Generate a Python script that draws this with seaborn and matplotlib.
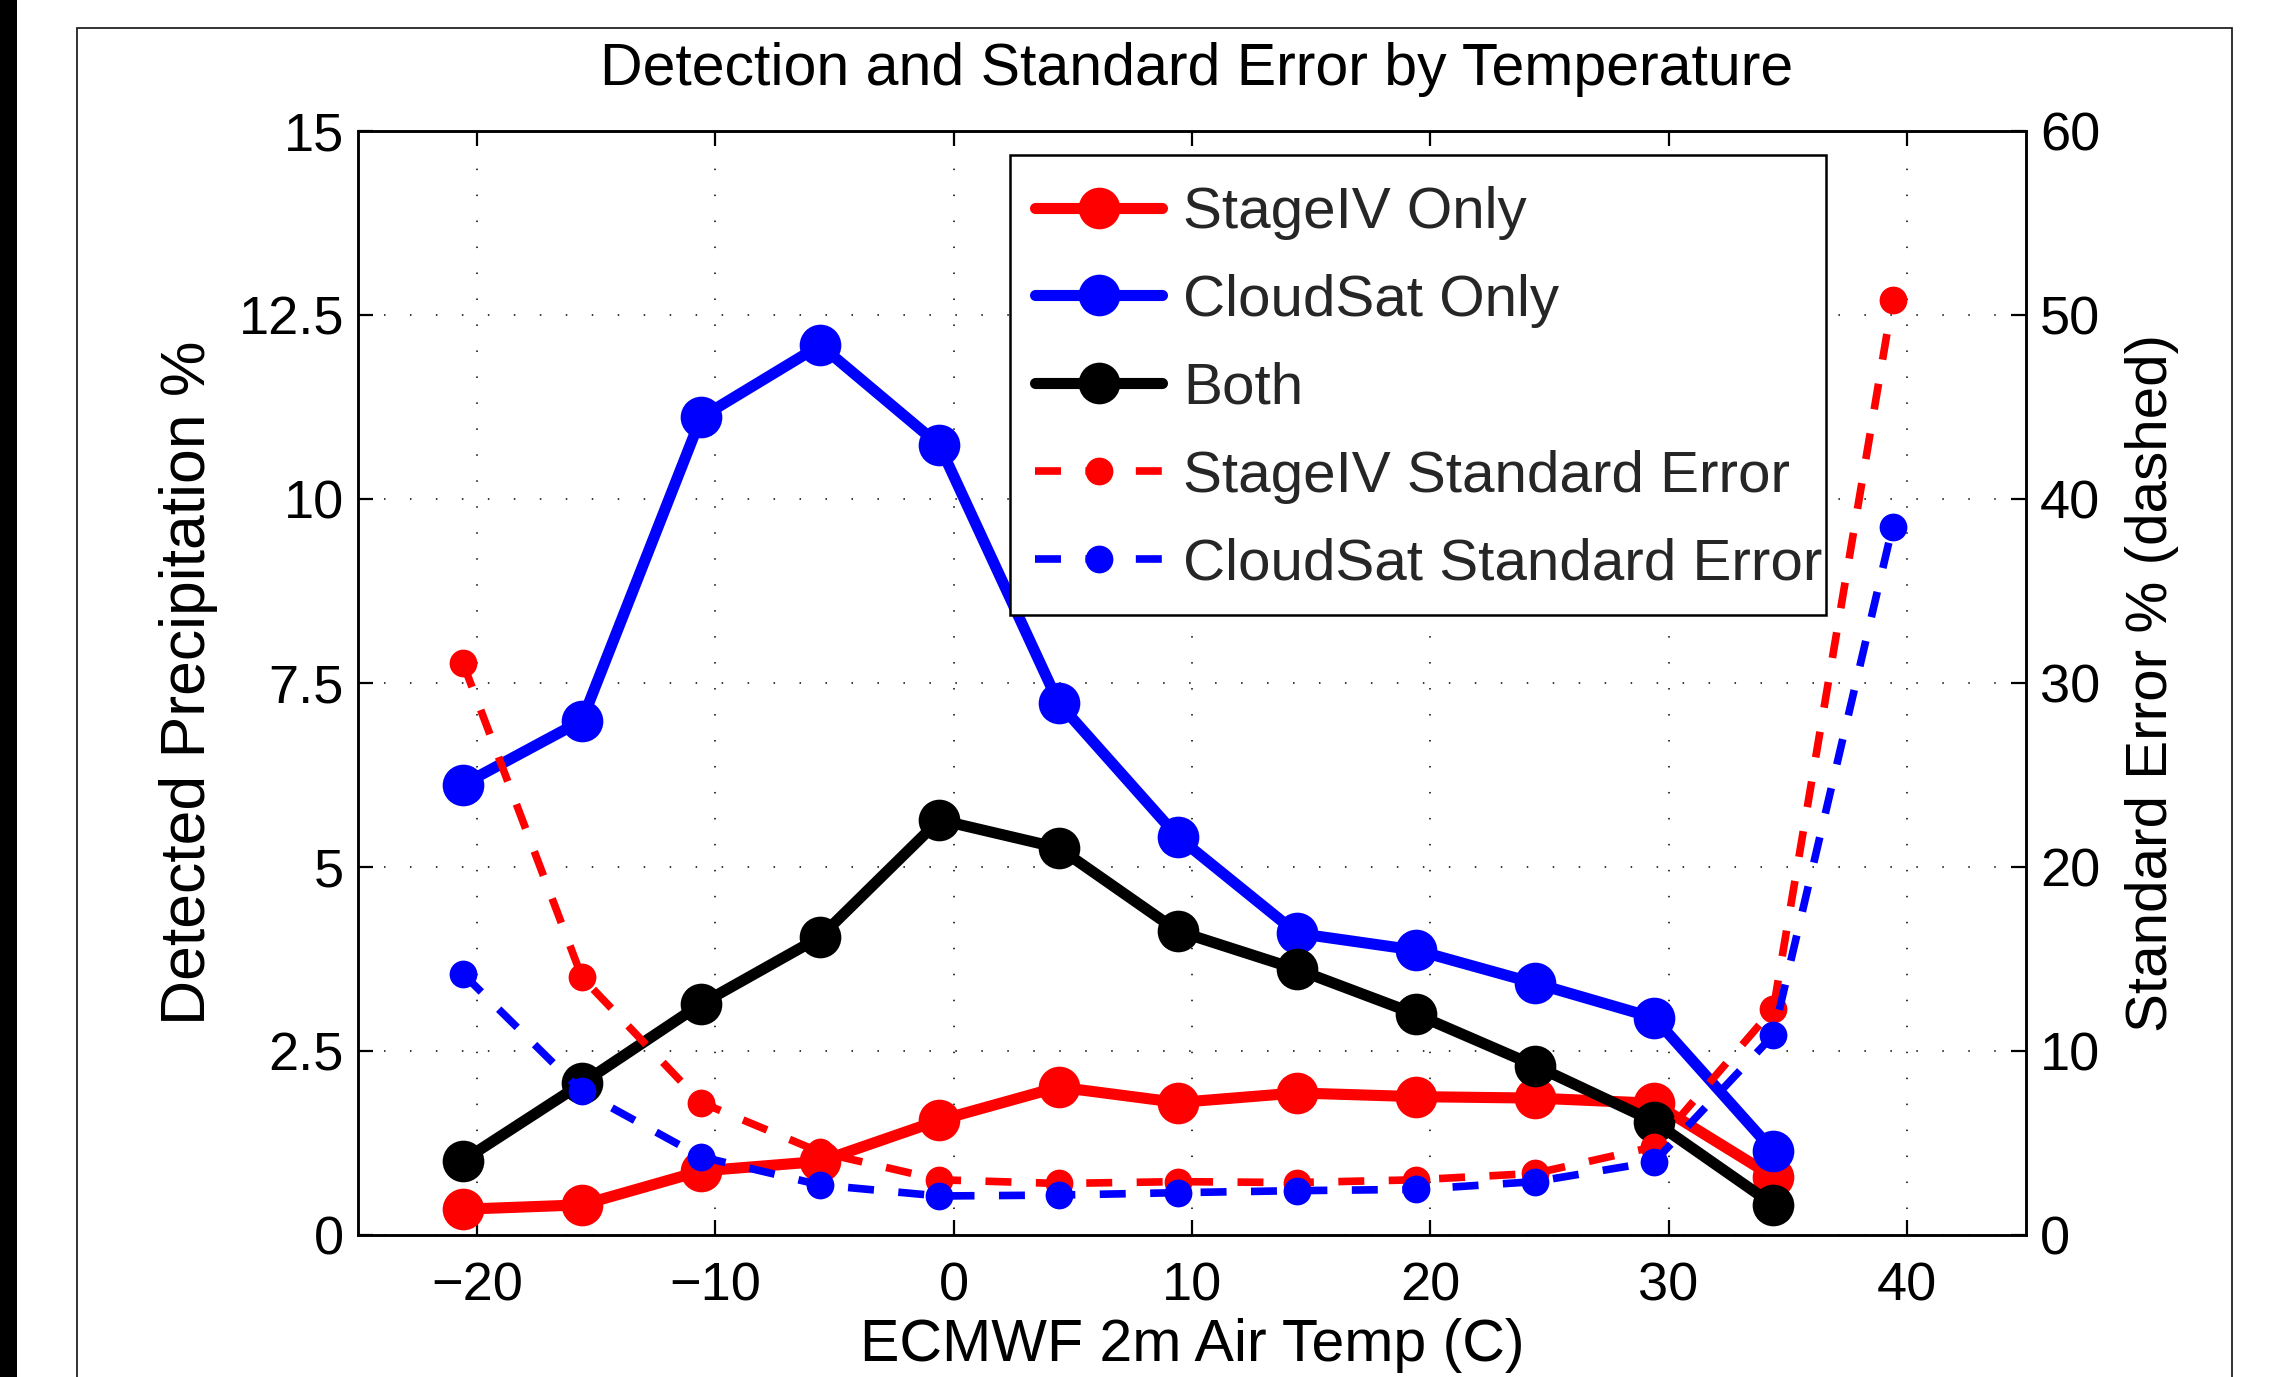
import matplotlib
matplotlib.use("Agg")
import matplotlib.pyplot as plt
from matplotlib.patches import Rectangle
import seaborn as sns
import pandas as pd

# ---- data ----
temp_solid = [-20.6, -15.6, -10.6, -5.6, -0.6, 4.4, 9.4, 14.4, 19.4, 24.4, 29.4, 34.4]
temp_dashed = [-20.6, -15.6, -10.6, -5.6, -0.6, 4.4, 9.4, 14.4, 19.4, 24.4, 29.4, 34.4, 39.4]
stageiv_only = [0.35, 0.41, 0.87, 1.00, 1.56, 2.01, 1.80, 1.93, 1.88, 1.86, 1.79, 0.79]
cloudsat_only = [6.12, 6.99, 11.11, 12.09, 10.73, 7.23, 5.41, 4.10, 3.87, 3.42, 2.95, 1.14]
both = [1.01, 2.06, 3.14, 4.05, 5.64, 5.26, 4.13, 3.61, 3.00, 2.30, 1.54, 0.41]
stageiv_se = [31.1, 14.0, 7.2, 4.5, 3.0, 2.8, 2.9, 2.85, 3.0, 3.35, 4.8, 12.3, 50.8]
cloudsat_se = [14.2, 7.8, 4.25, 2.72, 2.12, 2.17, 2.3, 2.41, 2.48, 2.9, 3.98, 10.87, 38.5]

x_ticks = [-20, -10, 0, 10, 20, 30, 40]
left_ticks = [0, 2.5, 5, 7.5, 10, 12.5, 15]
left_ticklabels = ["0", "2.5", "5", "7.5", "10", "12.5", "15"]
right_ticks = [0, 10, 20, 30, 40, 50, 60]

sns.set_theme(style="white")
plt.rcParams["font.family"] = ["Liberation Sans", "DejaVu Sans"]
plt.rcParams["axes.unicode_minus"] = True

W, H = 2276, 1377
fig = plt.figure(figsize=(W / 100, H / 100), dpi=100)
fig.patch.set_facecolor("white")

ax = fig.add_axes([358 / W, 1 - 1235 / H, (2026 - 358) / W, (1235 - 131) / H])
ax2 = ax.twinx()

FS_TICK = 39
FS_TEXT = 42.5
FS_LEG = 42
FS_YLAB = 45
FS_YLAB2 = 42
LW_SOLID = 8
MS_SOLID = 30
LW_DASH = 5.5
MS_DASH = 20
DASH = (0, (3.4, 3.2))

solid_series = [("StageIV Only", stageiv_only, "#ff0000"),
                ("CloudSat Only", cloudsat_only, "#0000ff"),
                ("Both", both, "#000000")]
for name, vals, col in solid_series:
    df = pd.DataFrame({"temp": temp_solid, "val": vals})
    sns.lineplot(data=df, x="temp", y="val", ax=ax, color=col, linewidth=LW_SOLID,
                 marker="o", markersize=MS_SOLID, markeredgecolor=col,
                 markeredgewidth=0, label=name, legend=False)

dashed_series = [("StageIV Standard Error", stageiv_se, "#ff0000"),
                 ("CloudSat Standard Error", cloudsat_se, "#0000ff")]
for name, vals, col in dashed_series:
    df = pd.DataFrame({"temp": temp_dashed, "val": vals})
    sns.lineplot(data=df, x="temp", y="val", ax=ax2, color=col, linewidth=LW_DASH,
                 linestyle=DASH, marker="o", markersize=MS_DASH, markeredgecolor=col,
                 markeredgewidth=0, label=name, legend=False)

for a in (ax, ax2):
    if a.get_legend() is not None:
        a.get_legend().remove()

ax.set_xlim(-25, 45)
ax.set_ylim(0, 15)
ax2.set_ylim(0, 60)
ax.set_xticks(x_ticks)
ax.set_yticks(left_ticks)
ax.set_yticklabels(left_ticklabels)
ax2.set_yticks(right_ticks)

ax.grid(True, color="black", linestyle=(0, (1, 16)), linewidth=1.1)
ax2.grid(False)

for a in (ax, ax2):
    for s in a.spines.values():
        s.set_linewidth(1.8)
        s.set_color("black")

ax.tick_params(axis="x", direction="in", length=11, width=1.6, top=True, bottom=True,
               labelsize=FS_TICK, pad=19, colors="black")
ax.tick_params(axis="y", direction="in", length=11, width=1.6, left=True, right=False,
               labelsize=FS_TICK, pad=10, colors="black")
ax2.tick_params(axis="y", direction="in", length=11, width=1.6, left=False, right=True,
                labelsize=FS_TICK, pad=10, colors="black")

ax.set_xlabel("ECMWF 2m Air Temp (C)", fontsize=FS_TEXT, labelpad=5, color="black")
ax.set_ylabel("Detected Precipitation %", fontsize=FS_YLAB, labelpad=15, color="black")
ax2.set_ylabel("Standard Error % (dashed)", fontsize=FS_YLAB2, labelpad=18, color="black",
               rotation=90)
ax.set_title("Detection and Standard Error by Temperature", fontsize=FS_TEXT, pad=33,
             color="black", x=0.503)

# legend box drawn explicitly, contents placed inside it
ax2.add_patch(Rectangle((1010 / W, 1 - 615 / H), (1826 - 1010) / W, (615 - 155) / H,
                        transform=fig.transFigure, facecolor="white", edgecolor="black",
                        linewidth=1.8, zorder=9, clip_on=False))
h1, l1 = ax.get_legend_handles_labels()
h2, l2 = ax2.get_legend_handles_labels()
leg = ax2.legend(h1 + h2, l1 + l2, loc="upper left",
                 bbox_to_anchor=(1035 / W, 1 - 186 / H), bbox_transform=fig.transFigure,
                 fontsize=FS_LEG, frameon=False, borderaxespad=0, borderpad=0,
                 handlelength=2.18, handletextpad=0.36, labelspacing=0.58, numpoints=1)
leg.set_zorder(10)

# outer figure decorations
fig.patches.append(Rectangle((0, 0), 17 / W, 1, transform=fig.transFigure,
                             facecolor="black", edgecolor="none", zorder=0))
fig.patches.append(Rectangle((77 / W, -0.1), (2232 - 77) / W, 1.1 - 28 / H,
                             transform=fig.transFigure, facecolor="none",
                             edgecolor="#222222", linewidth=1.3, zorder=0))

fig.savefig("out.png", dpi=100)
